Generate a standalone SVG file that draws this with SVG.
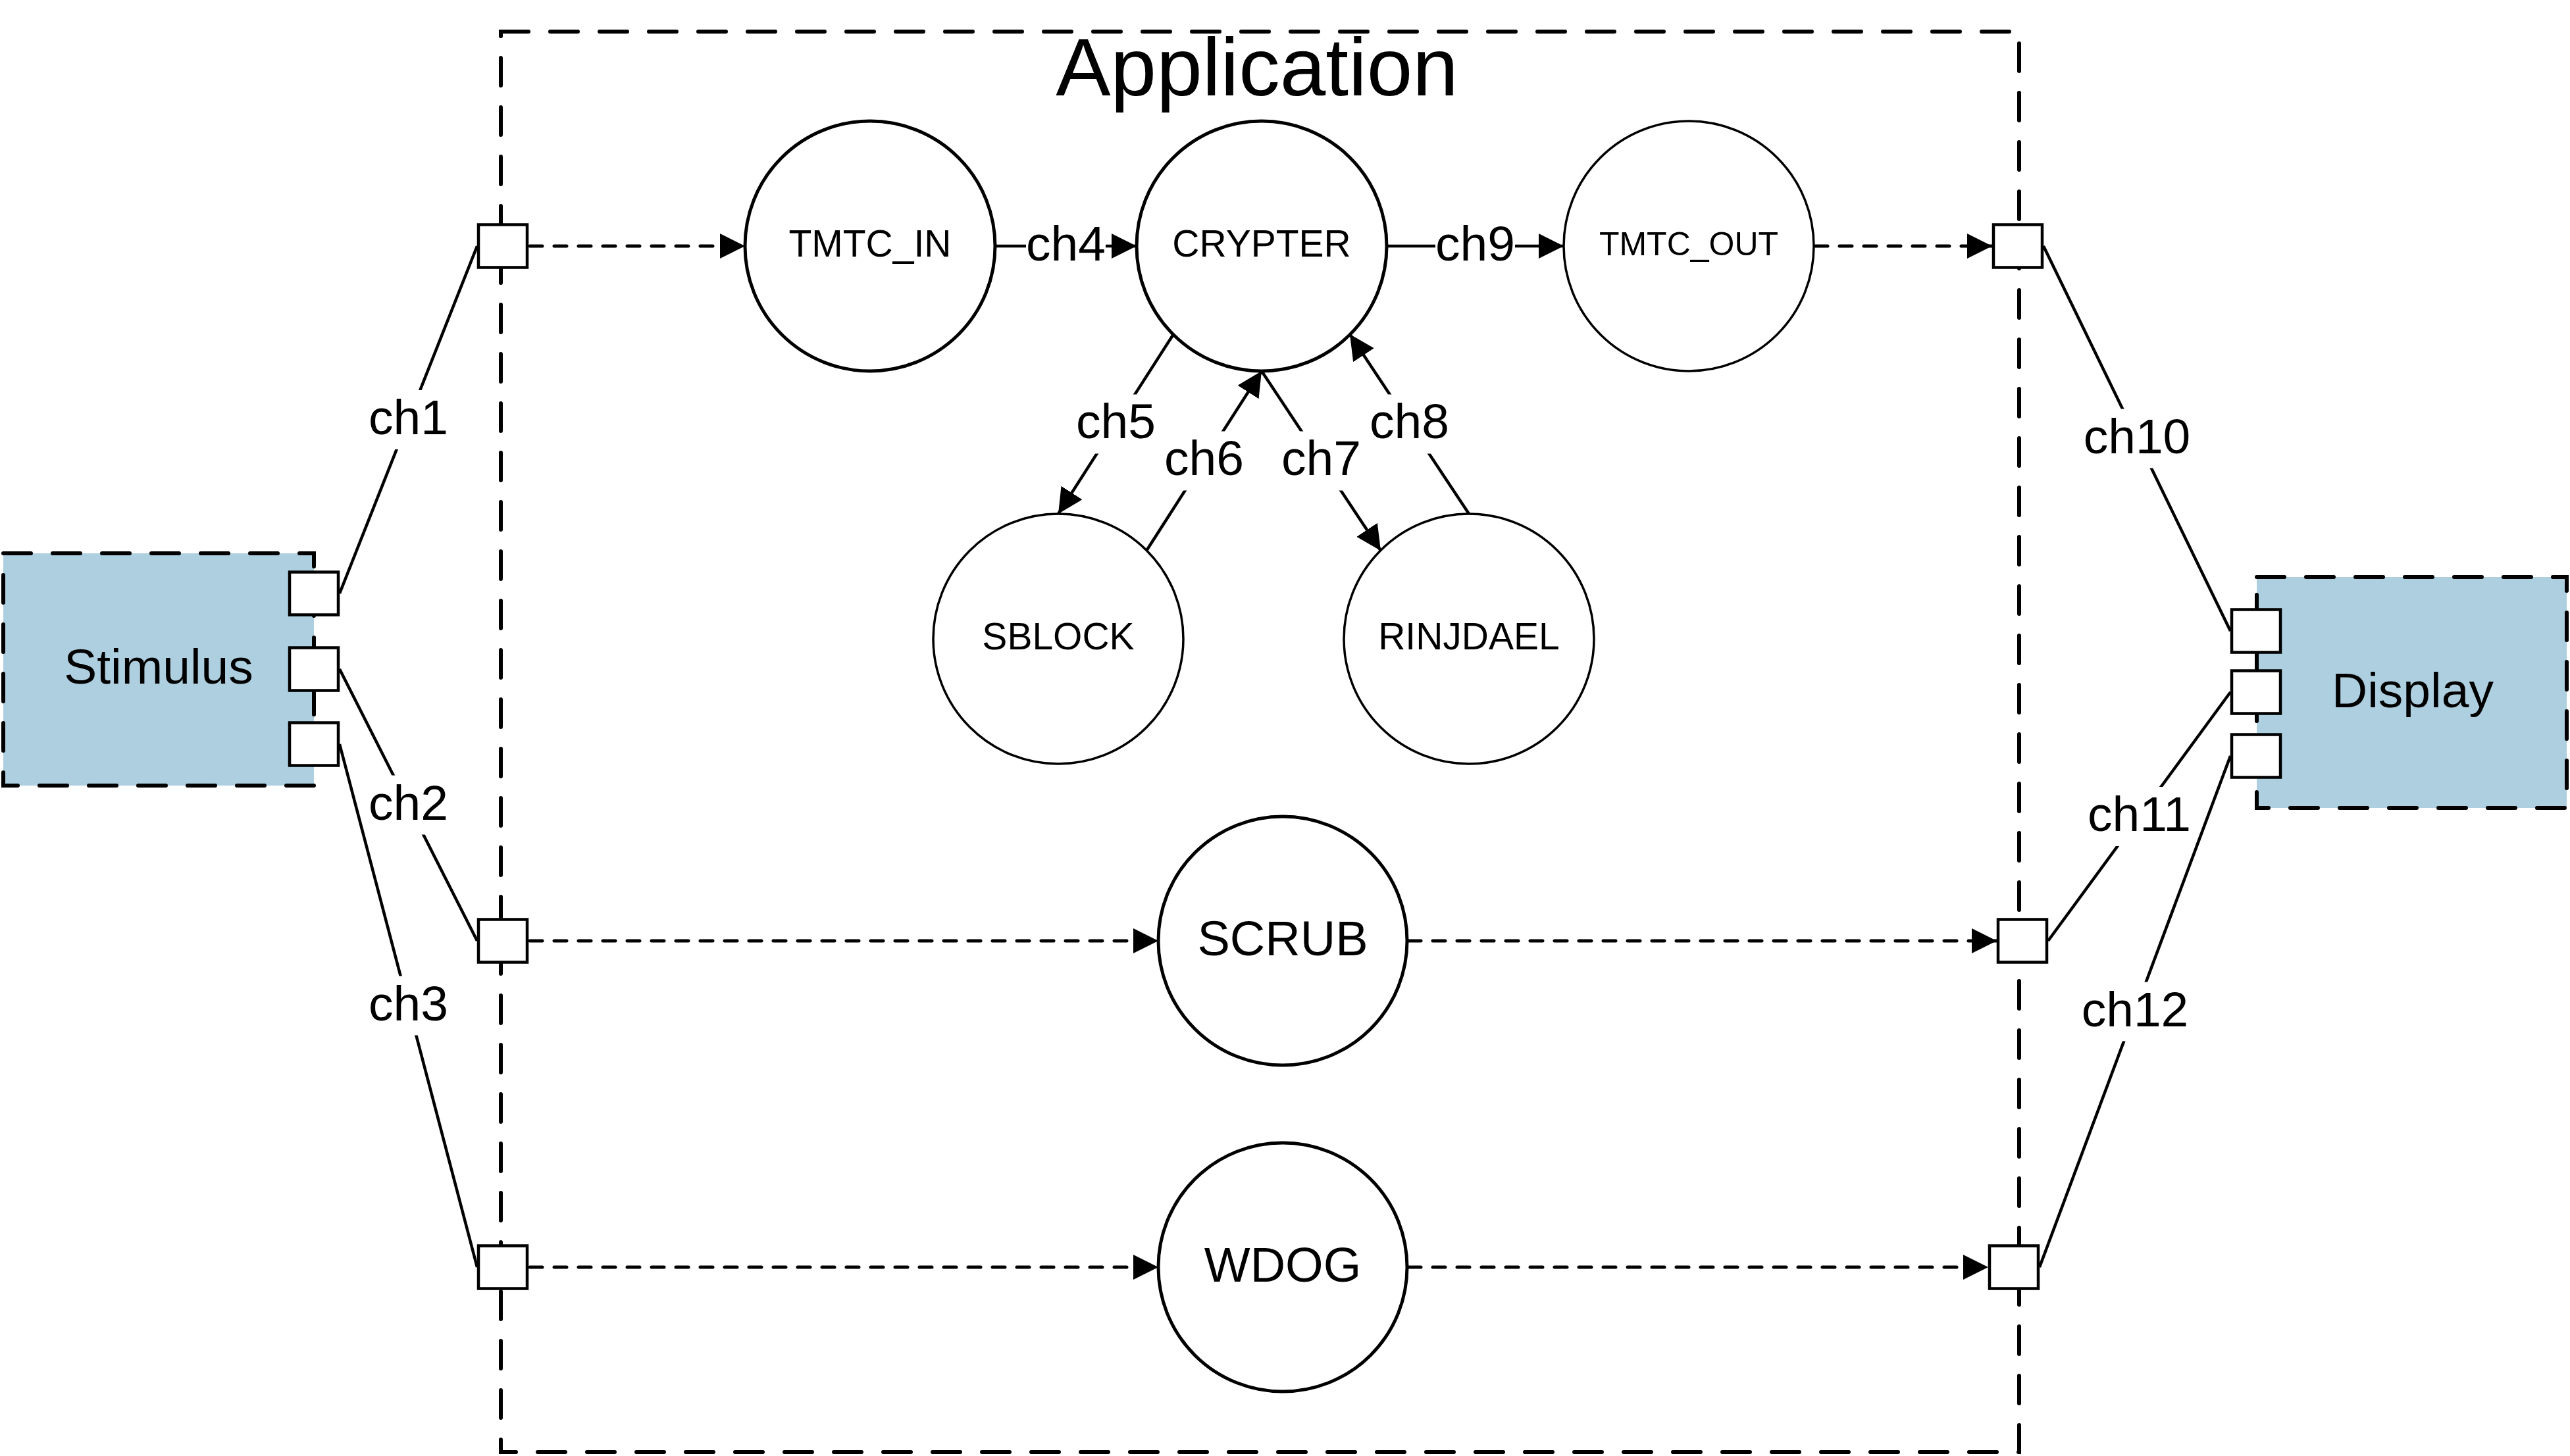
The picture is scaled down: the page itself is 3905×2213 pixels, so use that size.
<svg xmlns="http://www.w3.org/2000/svg" width="3905" height="2213" viewBox="0 0 3905 2213">
<defs>
<style>
.bd{fill:none;stroke:#000;stroke-width:6;stroke-dasharray:42 33;stroke-linecap:round}
.env{fill:#aecfdf;stroke:#000;stroke-width:6;stroke-dasharray:42 33;stroke-linecap:round}
.port{fill:#fff;stroke:#000;stroke-width:4.5}
.pr{fill:#fff;stroke:#000;stroke-width:5}
.pr2{fill:#fff;stroke:#000;stroke-width:3.5}
.t{font-family:"Liberation Sans",Arial,sans-serif;fill:#000;text-anchor:middle}
.lbl{font-size:75px}
.sm{font-size:57px}
.sol{fill:none;stroke:#000;stroke-width:4.5}
.dsh{fill:none;stroke:#000;stroke-width:5;stroke-dasharray:19 18;stroke-linecap:round}
.lbg{fill:#fff}
</style>
<marker id="ah" markerUnits="userSpaceOnUse" markerWidth="38" markerHeight="38" viewBox="0 0 38 38" refX="38" refY="19" orient="auto">
<path d="M0,0 L38,19 L0,38 z" fill="#000"/>
</marker>
</defs>
<rect x="0" y="0" width="3905" height="2213" fill="#fff"/>

<g id="application">
<rect class="bd" x="761" y="48" width="2307" height="2159"/>
<text class="t" x="1910" y="145" font-size="125">Application</text>
<rect class="port" x="727" y="341.5" width="74" height="65"/>
<rect class="port" x="727" y="1397.5" width="74" height="65"/>
<rect class="port" x="727" y="1893.5" width="74" height="65"/>
<rect class="port" x="3029" y="341.5" width="74" height="65"/>
<rect class="port" x="3036" y="1397.5" width="74" height="65"/>
<rect class="port" x="3023" y="1893.5" width="74" height="65"/>
</g>

<g id="stimulus">
<rect class="env" x="5" y="841" width="472" height="353"/>
<text class="t lbl" x="241" y="1039">Stimulus</text>
<rect class="port" x="440" y="869.5" width="74" height="65"/>
<rect class="port" x="440" y="984.5" width="74" height="65"/>
<rect class="port" x="440" y="1098.5" width="74" height="65"/>
</g>

<g id="display">
<rect class="env" x="3429" y="877" width="471" height="351"/>
<text class="t lbl" x="3666" y="1075">Display</text>
<rect class="port" x="3391" y="926.5" width="74" height="65"/>
<rect class="port" x="3391" y="1019.5" width="74" height="65"/>
<rect class="port" x="3391" y="1116.5" width="74" height="65"/>
</g>

<g id="tmtc_in">
<circle class="pr" cx="1322" cy="374" r="190"/>
<text class="t sm" x="1322" y="390">TMTC_IN</text>
</g>
<g id="crypter">
<circle class="pr" cx="1917" cy="374" r="190"/>
<text class="t sm" x="1917" y="390">CRYPTER</text>
</g>
<g id="tmtc_out">
<circle class="pr2" cx="2566" cy="374" r="190"/>
<text class="t" x="2566" y="388" font-size="50">TMTC_OUT</text>
</g>
<g id="sblock">
<circle class="pr2" cx="1608" cy="971" r="190"/>
<text class="t sm" x="1608" y="987">SBLOCK</text>
</g>
<g id="rinjdael">
<circle class="pr2" cx="2232" cy="971" r="190"/>
<text class="t sm" x="2232" y="987">RINJDAEL</text>
</g>
<g id="scrub">
<circle class="pr" cx="1949" cy="1430" r="189"/>
<text class="t" x="1949" y="1452" font-size="74">SCRUB</text>
</g>
<g id="wdog">
<circle class="pr" cx="1949" cy="1926" r="189"/>
<text class="t" x="1949" y="1948" font-size="74">WDOG</text>
</g>

<g id="connectors">
<path class="dsh" d="M805,374 L1132,374" marker-end="url(#ah)"/>
<path class="dsh" d="M2758,374 L3027,374" marker-end="url(#ah)"/>
<path class="dsh" d="M805,1430 L1760,1430" marker-end="url(#ah)"/>
<path class="dsh" d="M2140,1430 L3034,1430" marker-end="url(#ah)"/>
<path class="dsh" d="M805,1926 L1760,1926" marker-end="url(#ah)"/>
<path class="dsh" d="M2140,1926 L3021,1926" marker-end="url(#ah)"/>

<path class="sol" d="M516,902 L725,374"/>
<path class="sol" d="M516,1017 L725,1430"/>
<path class="sol" d="M516,1131 L725,1926"/>
<path class="sol" d="M3105,374 L3389,959"/>
<path class="sol" d="M3112,1430 L3389,1052"/>
<path class="sol" d="M3099,1926 L3389,1149"/>

<path class="sol" d="M1512,374 L1727,374" marker-end="url(#ah)"/>
<path class="sol" d="M2107,374 L2376,374" marker-end="url(#ah)"/>
<path class="sol" d="M1783,508 L1608,781" marker-end="url(#ah)"/>
<path class="sol" d="M1742,837 L1917,564" marker-end="url(#ah)"/>
<path class="sol" d="M1917,564 L2098,837" marker-end="url(#ah)"/>
<path class="sol" d="M2232,781 L2051,508" marker-end="url(#ah)"/>

<rect class="lbg" x="560" y="593" width="121" height="90"/>
<text class="t lbl" x="620.5" y="660">ch1</text>
<rect class="lbg" x="560" y="1178.5" width="121" height="90"/>
<text class="t lbl" x="620.5" y="1245.5">ch2</text>
<rect class="lbg" x="560" y="1483.5" width="121" height="90"/>
<text class="t lbl" x="620.5" y="1550.5">ch3</text>
<rect class="lbg" x="1559" y="329" width="121" height="90"/>
<text class="t lbl" x="1619.5" y="396">ch4</text>
<rect class="lbg" x="1635" y="599.5" width="121" height="90"/>
<text class="t lbl" x="1695.5" y="666">ch5</text>
<rect class="lbg" x="1769" y="655.5" width="121" height="90"/>
<text class="t lbl" x="1829.5" y="722">ch6</text>
<rect class="lbg" x="1947" y="655.5" width="121" height="90"/>
<text class="t lbl" x="2007.5" y="722">ch7</text>
<rect class="lbg" x="2081" y="599.5" width="121" height="90"/>
<text class="t lbl" x="2141.5" y="666">ch8</text>
<rect class="lbg" x="2181" y="329" width="121" height="90"/>
<text class="t lbl" x="2241.5" y="396">ch9</text>
<rect class="lbg" x="3165.5" y="621.5" width="163" height="90"/>
<text class="t lbl" x="3247" y="688.5">ch10</text>
<rect class="lbg" x="3169" y="1196" width="163" height="90"/>
<text class="t lbl" x="3250.5" y="1263">ch11</text>
<rect class="lbg" x="3162.5" y="1492.5" width="163" height="90"/>
<text class="t lbl" x="3244" y="1559.5">ch12</text>
</g>
</svg>
